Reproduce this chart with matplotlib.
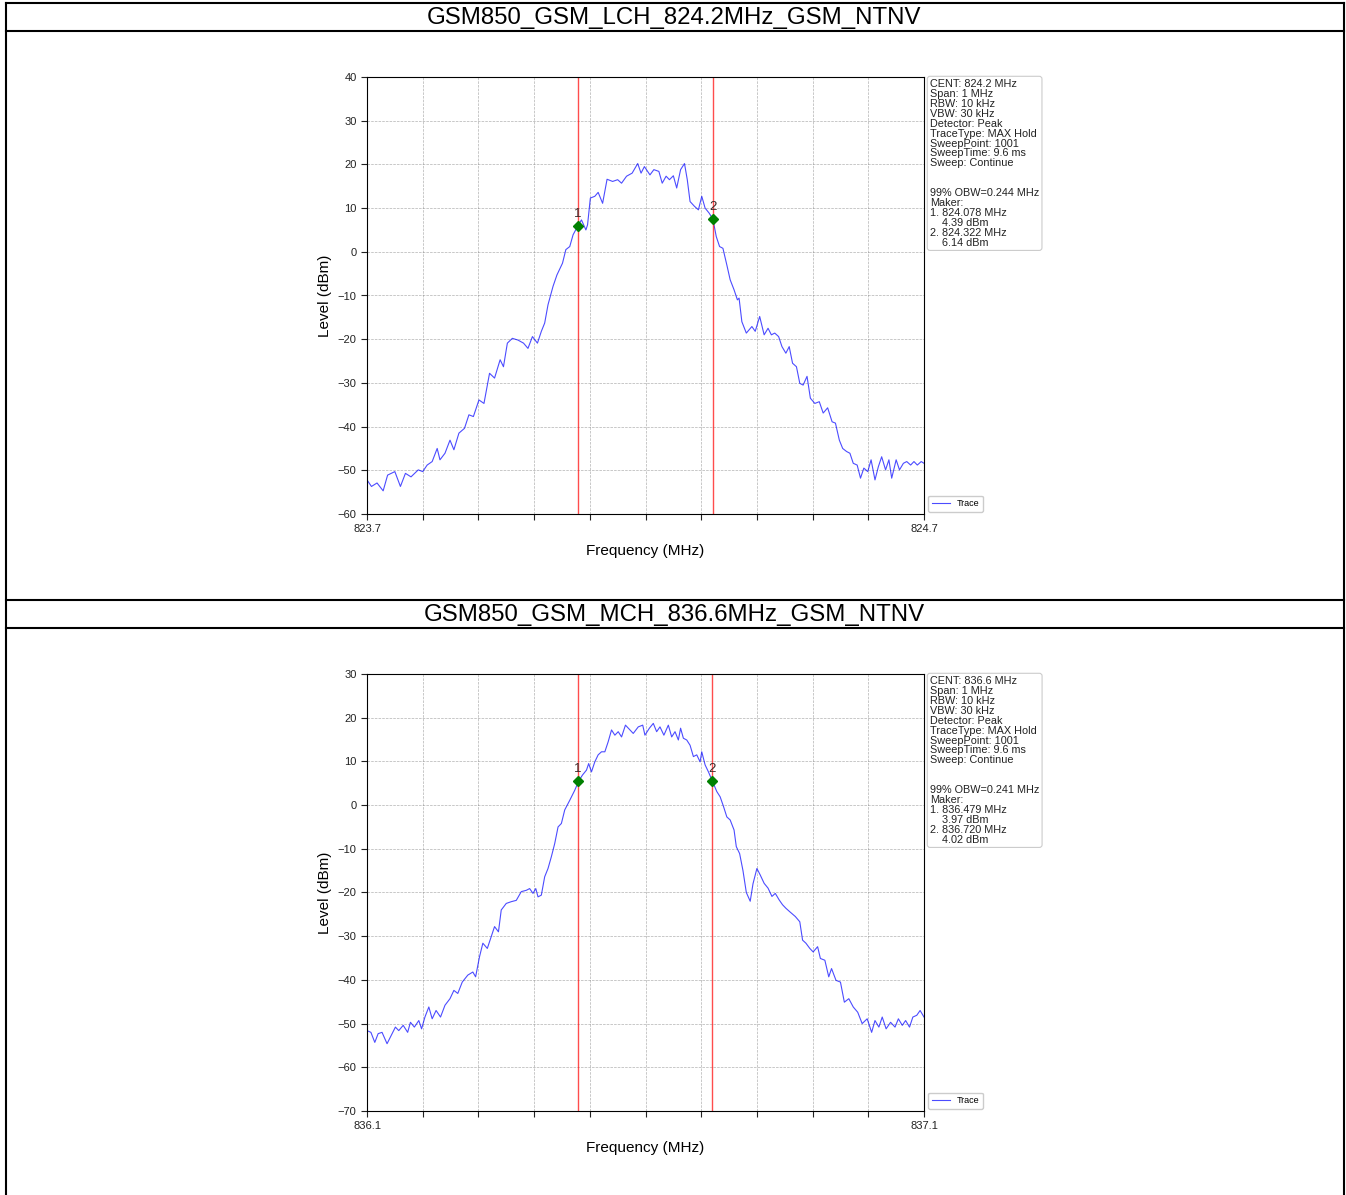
import matplotlib.pyplot as plt
from matplotlib.lines import Line2D

plt.rcParams['font.family'] = ['Liberation Sans', 'DejaVu Sans']

# ---- LCH trace (offset from 823.7 MHz in kHz, level in dBm) ----
lch_start = 823.7
lch_khz = [0, 8, 18, 29, 37, 50, 60, 69, 79, 92,
           100, 108, 117, 126, 131, 140, 149, 156, 165, 175,
           183, 191, 201, 210, 220, 229, 239, 245, 252, 261,
           271, 281, 289, 297, 306, 313, 319, 325, 334, 341,
           351, 357, 364, 370, 378, 385, 393, 396, 401, 409,
           415, 423, 431, 441, 450, 457, 466, 476, 486, 492,
           498, 508, 515, 524, 530, 537, 543, 550, 556, 563,
           570, 575, 580, 588, 595, 601, 607, 614, 621, 627,
           633, 639, 646, 652, 659, 665, 668, 673, 681, 691,
           697, 705, 713, 720, 726, 732, 739, 745, 752, 758,
           764, 771, 777, 783, 790, 796, 804, 812, 819, 827,
           835, 841, 848, 854, 861, 867, 873, 880, 886, 892,
           899, 905, 912, 918, 924, 931, 937, 942, 950, 956,
           963, 969, 976, 982, 988, 995, 1000]
lch_dbm = [-52.2, -53.7, -52.9, -54.7, -51.1, -50.3, -53.7, -50.7, -51.5, -49.9,
           -50.3, -48.8, -48.0, -45.0, -47.6, -46.1, -43.1, -45.3, -41.5, -40.4,
           -37.3, -37.7, -33.9, -34.7, -27.8, -28.9, -24.7, -26.3, -20.9, -19.8,
           -20.2, -20.9, -22.1, -19.4, -20.9, -18.2, -16.3, -12.1, -7.9, -5.3,
           -2.6, 0.5, 1.2, 3.9, 5.8, 7.3, 5.0, 6.2, 12.3, 12.7,
           13.6, 11.1, 16.6, 16.1, 16.5, 15.7, 17.3, 18.0, 20.2, 18.0,
           19.5, 17.6, 18.8, 18.4, 15.7, 17.3, 16.5, 17.4, 14.6, 18.8,
           20.2, 16.5, 11.5, 10.4, 9.6, 12.7, 10.0, 8.9, 7.5, 3.5,
           1.2, 0.8, -3.0, -6.4, -8.7, -11.0, -10.6, -16.0, -18.6, -17.1,
           -18.2, -14.8, -19.0, -17.5, -19.0, -18.6, -19.4, -21.7, -23.2, -21.7,
           -25.5, -26.3, -30.1, -30.5, -28.5, -33.5, -34.7, -34.3, -36.9, -35.7,
           -38.9, -39.2, -43.1, -45.0, -45.7, -46.1, -48.4, -48.8, -51.8, -49.5,
           -50.3, -47.6, -52.2, -49.2, -46.9, -49.9, -47.6, -51.8, -47.6, -49.9,
           -48.4, -48.0, -48.8, -48.0, -48.8, -48.0, -48.4]
lch_markers = [824.078, 824.322]
lch_marker_dbm = [5.8, 7.5]

# ---- MCH trace (offset from 836.1 MHz in kHz, level in dBm) ----
mch_start = 836.1
mch_khz = [0, 7, 14, 20, 27, 36, 42, 51, 57, 65,
           73, 78, 85, 93, 98, 104, 111, 117, 124, 132,
           140, 149, 156, 163, 171, 181, 190, 195, 202, 208,
           216, 223, 229, 236, 241, 250, 259, 268, 277, 286,
           292, 298, 303, 307, 313, 319, 325, 331, 337, 343,
           349, 355, 364, 373, 380, 387, 394, 398, 403, 409,
           415, 421, 427, 433, 439, 445, 451, 457, 464, 472,
           478, 487, 495, 499, 507, 514, 520, 526, 533, 541,
           547, 553, 559, 563, 568, 574, 580, 586, 592, 598,
           601, 607, 613, 620, 628, 634, 640, 646, 652, 659,
           663, 669, 675, 681, 688, 693, 700, 706, 713, 720,
           727, 733, 740, 746, 752, 759, 769, 777, 782, 788,
           795, 801, 809, 814, 822, 829, 834, 842, 850, 857,
           865, 873, 881, 889, 898, 906, 912, 919, 925, 932,
           940, 948, 954, 961, 967, 974, 980, 987, 993, 1000]
mch_dbm = [-51.6, -52.0, -54.3, -52.3, -52.0, -54.6, -53.1, -50.8, -51.6, -50.4,
           -52.0, -49.7, -50.8, -49.3, -51.2, -48.5, -46.2, -48.9, -47.0, -48.5,
           -45.8, -44.3, -42.4, -43.1, -40.5, -38.9, -38.2, -39.3, -34.7, -31.6,
           -32.8, -30.1, -27.8, -29.0, -24.0, -22.5, -22.1, -21.8, -19.8, -19.5,
           -19.1, -20.2, -19.1, -21.0, -20.6, -16.4, -14.5, -11.8, -8.8, -5.0,
           -4.2, -1.1, 1.1, 3.4, 5.5, 6.9, 8.0, 9.5, 7.6, 9.9,
           11.5, 12.2, 12.2, 14.5, 17.2, 16.0, 16.8, 15.6, 18.3, 17.2,
           16.4, 17.9, 18.3, 16.0, 17.6, 18.7, 16.8, 17.9, 16.0, 18.3,
           15.6, 16.8, 14.9, 17.6, 15.3, 14.9, 13.7, 11.1, 11.5, 9.9,
           12.2, 9.2, 7.6, 5.5, 3.1, 1.9, -0.3, -2.7, -3.4, -5.7,
           -9.5, -11.1, -15.0, -20.0, -22.0, -18.0, -14.5, -16.0, -17.9, -19.0,
           -20.9, -20.2, -21.7, -22.8, -23.6, -24.4, -25.5, -26.7, -30.9, -31.6,
           -32.8, -33.6, -32.4, -35.1, -35.5, -39.3, -37.4, -40.1, -40.5, -45.1,
           -44.3, -46.2, -47.4, -50.0, -48.9, -52.0, -49.3, -50.8, -48.5, -51.2,
           -49.7, -50.8, -48.9, -50.4, -49.3, -50.8, -48.5, -48.1, -47.0, -48.5]
mch_markers = [836.479, 836.720]
mch_marker_dbm = [5.5, 5.5]

lch_info = ("CENT: 824.2 MHz\nSpan: 1 MHz\nRBW: 10 kHz\nVBW: 30 kHz\nDetector: Peak\n"
            "TraceType: MAX Hold\nSweepPoint: 1001\nSweepTime: 9.6 ms\nSweep: Continue\n\n\n"
            "99% OBW=0.244 MHz\nMaker:\n1. 824.078 MHz\n    4.39 dBm\n2. 824.322 MHz\n    6.14 dBm")
mch_info = ("CENT: 836.6 MHz\nSpan: 1 MHz\nRBW: 10 kHz\nVBW: 30 kHz\nDetector: Peak\n"
            "TraceType: MAX Hold\nSweepPoint: 1001\nSweepTime: 9.6 ms\nSweep: Continue\n\n\n"
            "99% OBW=0.241 MHz\nMaker:\n1. 836.479 MHz\n    3.97 dBm\n2. 836.720 MHz\n    4.02 dBm")

W, H = 1346, 1195
fig = plt.figure(figsize=(W / 100, H / 100), dpi=100)


def fx(px):
    return px / W


def fy(py):
    return 1 - py / H


# table borders
for y in [3, 31, 600, 628]:
    fig.add_artist(Line2D([fx(6), fx(1344)], [fy(y), fy(y)], color='black', lw=1.5,
                          transform=fig.transFigure))
for x in [6, 1344]:
    fig.add_artist(Line2D([fx(x), fx(x)], [fy(3), fy(1195)], color='black', lw=1.5,
                          transform=fig.transFigure))

fig.text(fx(674), fy(18), "GSM850_GSM_LCH_824.2MHz_GSM_NTNV", ha='center', va='center', fontsize=17.3)
fig.text(fx(674), fy(615), "GSM850_GSM_MCH_836.6MHz_GSM_NTNV", ha='center', va='center', fontsize=17.3)


def draw_panel(top, start, khz, dbm, markers, marker_dbm, ylim, info):
    ax = fig.add_axes([fx(367), fy(top + 437), fx(924) - fx(367), fy(top) - fy(top + 437)])
    freq = [start + k / 1000 for k in khz]
    ax.plot(freq, dbm, color='blue', lw=0.8, alpha=0.7, label='Trace')
    for m, v, n in zip(markers, marker_dbm, ['1', '2']):
        ax.axvline(m, color='red', lw=1, alpha=0.7)
        ax.plot([m], [v], marker='D', color='green', markersize=5)
        ax.text(m, v + 1.4, n, ha='center', va='bottom', fontsize=9.5, color='#3a2a2a')
    ax.set_xlim(start, start + 1)
    ax.set_ylim(*ylim)
    ticks = [start + i * 0.1 for i in range(11)]
    ax.set_xticks(ticks)
    ax.set_xticklabels([f"{start:.1f}"] + [''] * 9 + [f"{start + 1:.1f}"])
    ax.set_yticks(range(ylim[0], ylim[1] + 1, 10))
    ax.tick_params(labelsize=8, length=4, colors='#222222')
    ax.grid(True, ls='--', color='gray', lw=0.5, alpha=0.6)
    ax.set_xlabel('Frequency (MHz)', fontsize=11, labelpad=7)
    ax.set_ylabel('Level (dBm)', fontsize=11)
    ax.legend(loc='lower left', bbox_to_anchor=(1.007, 0.005), borderaxespad=0,
              fontsize=6.5, fancybox=True, framealpha=1)
    fig.text(fx(930), fy(top + 2), info, ha='left', va='top', fontsize=7.8, color='#222222',
             linespacing=0.99,
             bbox=dict(boxstyle='round,pad=0.25', fc='white', ec='#cccccc', lw=0.8))
    return ax


draw_panel(77, lch_start, lch_khz, lch_dbm, lch_markers, lch_marker_dbm, (-60, 40), lch_info)
draw_panel(674, mch_start, mch_khz, mch_dbm, mch_markers, mch_marker_dbm, (-70, 30), mch_info)

fig.savefig('out.png', dpi=100)
